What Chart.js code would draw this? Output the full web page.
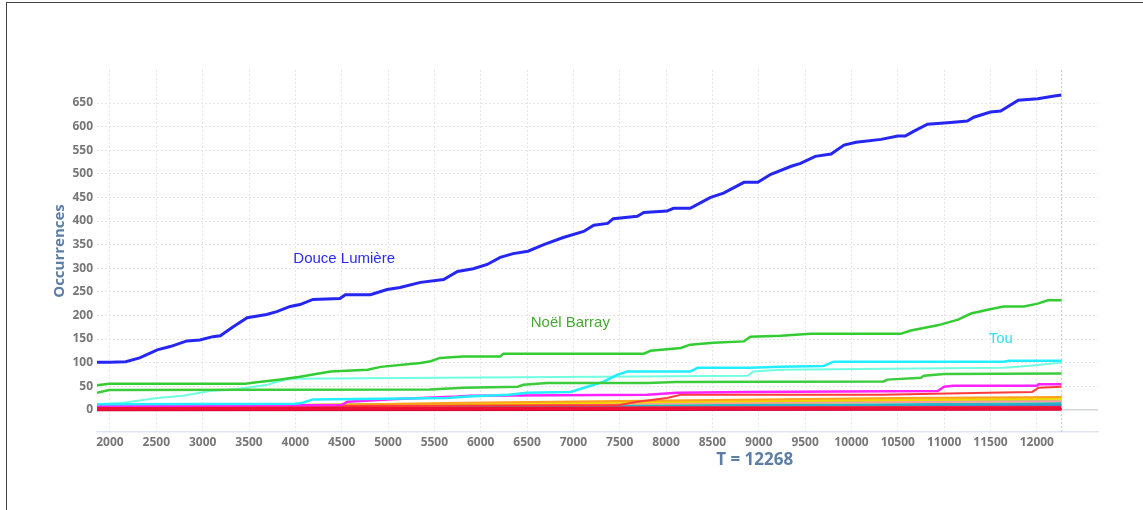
<!DOCTYPE html>
<html>
<head>
<meta charset="utf-8">
<script src="https://cdn.jsdelivr.net/npm/chart.js@4.4.1/dist/chart.umd.min.js"></script>
<style>
html, body { margin: 0; padding: 0; background: #fff; }
#wrap { position: relative; width: 1143px; height: 510px; }
#frame { position: absolute; left: 6px; top: 2px; right: 0; bottom: 0;
  border-left: 1.5px solid #444; border-top: 1.5px solid #444; pointer-events: none; }
</style>
</head>
<body>
<div id="wrap">
  <canvas id="chart" width="1143" height="510" style="width:1143px;height:510px"></canvas>
  <div id="frame"></div>
</div>
<script>
const T_NOW = 12268;

// Douce Lumière
const blueT = [1860, 2000, 2170, 2320, 2510, 2650, 2830, 2970, 3110, 3190, 3330, 3480, 3690, 3800, 3944,
  4050, 4190, 4480, 4540, 4810, 4990, 5130, 5350, 5600, 5750, 5920, 6070, 6210, 6350, 6510, 6680, 6890,
  7110, 7220, 7370, 7430, 7690, 7760, 8010, 8080, 8260, 8480, 8620, 8840, 8990, 9130, 9350, 9450, 9610,
  9780, 9920, 10050, 10320, 10500, 10580, 10670, 10820, 11070, 11250, 11320, 11500, 11610, 11800, 12010,
  12190, 12268];
const blueV = [101, 101, 102, 110, 127, 134, 146, 148, 155, 157, 176, 195, 202, 208, 219,
  223, 234, 236, 244, 244, 255, 259, 270, 276, 293, 299, 308, 323, 331, 336, 350, 365,
  378, 391, 395, 405, 410, 418, 421, 427, 427, 450, 459, 482, 482, 499, 516, 522, 537,
  542, 561, 567, 573, 580, 580, 590, 605, 609, 612, 620, 631, 633, 656, 659,
  665, 667];

// Noël Barray
const greenT = [1860, 1990, 3460, 3560, 3840, 4050, 4380, 4780, 4920, 5350, 5460, 5560, 5810, 6210, 6245,
  7760, 7830, 8160, 8260, 8510, 8840, 8910, 9235, 9560, 10530, 10640, 10930, 11150, 11290, 11470, 11640,
  11860, 12010, 12120, 12268];
const greenV = [52, 55, 55, 58, 64, 70, 81, 85, 91, 99, 103, 110, 113, 113, 119,
  119, 125, 131, 138, 142, 145, 155, 157, 161, 161, 168, 179, 191, 204, 212, 219,
  219, 225, 232, 232];

const green2T = [1860, 1990, 5450, 5810, 6400, 6460, 6720, 7800, 8100, 10345, 10390, 10750, 10780, 11000, 12268];
const green2V = [36, 42, 43, 47, 49, 53, 57, 57, 59, 60, 64, 68, 72, 76, 77];

// Tou
const cyanT = [1860, 4000, 4080, 4190, 5640, 5860, 6300, 6500, 6970, 7150, 7320, 7470, 7580, 8260, 8340,
  8910, 9235, 9700, 9810, 11640, 11700, 12268];
const cyanV = [12, 13, 15, 22, 25, 28, 32, 36, 38, 49, 59, 74, 81, 81, 89,
  89, 91, 93, 102, 102, 104, 104];

const aquaT = [1860, 2140, 2510, 2790, 2970, 3080, 3250, 3480, 3700, 3800, 3944, 5560, 7260, 8880, 8940,
  9235, 10390, 11640, 11800, 12010, 12268];
const aquaV = [12, 15, 25, 30, 36, 40, 42, 47, 53, 59, 66, 68, 70, 72, 81,
  85, 87, 89, 91, 95, 100];

const magentaT = [1860, 4500, 4560, 5100, 5750, 5890, 7800, 8120, 8880, 10930, 11000, 11100, 12000, 12020, 12268];
const magentaV = [8, 10, 17, 23, 28, 30, 32, 36, 38, 40, 49, 51, 51, 54, 54];

const redT = [1860, 7500, 7690, 8010, 8160, 10320, 11470, 11950, 12020, 12268];
const redV = [6, 10, 17, 25, 32, 32, 36, 38, 47, 49];

const orangeT = [1860, 2700, 4800, 5800, 8000, 10500, 12268];
const orangeV = [5, 8, 12, 15, 20, 25, 27];
const yellowT = [1860, 3500, 5500, 8000, 11000, 12268];
const yellowV = [3, 6, 10, 17, 22, 24];
const salmonT = [1860, 5000, 8000, 11000, 12268];
const salmonV = [3, 8, 14, 17, 18];
const limeT = [1860, 4800, 7000, 10000, 12268];
const limeV = [4, 12, 13, 16, 19];
const tealT = [1860, 4000, 8000, 11000, 12268];
const tealV = [2, 6, 9, 12, 14];
const steelT = [1860, 5000, 9000, 12268];
const steelV = [1, 4, 8, 10];
const purpleT = [1860, 6000, 12268];
const purpleV = [1, 3, 6];
const pinkT = [1860, 8000, 12268];
const pinkV = [3, 5, 6];
const crimsonT = [1860, 12268];
const crimsonV = [0, 1];
const redBandT = [1860, 5000, 12268];
const redBandV = [2, 3, 4];

const xTicks = [2000, 2500, 3000, 3500, 4000, 4500, 5000, 5500, 6000, 6500, 7000,
  7500, 8000, 8500, 9000, 9500, 10000, 10500, 11000, 11500, 12000];
const yTicks = [0, 50, 100, 150, 200, 250, 300, 350, 400, 450, 500, 550, 600, 650];

const annNames = ['Douce Lumière', 'Noël Barray', 'Tou'];
const annT = [4527, 6967, 11611];
const annV = [319, 185, 151];
const annColors = ['#2b2bf0', '#47a832', '#2fe4f2'];

const pts = (ts, vs) => ts.map((t, i) => ({ x: t, y: vs[i] }));

const series = [
  [blueT, blueV, '#2626f2', 3],
  [redBandT, redBandV, '#ee1133', 3.5],
  [crimsonT, crimsonV, '#d4003a', 3],
  [greenT, greenV, '#33cc33', 2.5],
  [green2T, green2V, '#3ccc3c', 2.5],
  [cyanT, cyanV, '#22eeff', 2.5],
  [aquaT, aquaV, '#70ffe0', 2],
  [magentaT, magentaV, '#ff22ff', 2.5],
  [redT, redV, '#ff3b3b', 2],
  [pinkT, pinkV, '#ff4477', 2],
  [orangeT, orangeV, '#ffa020', 2],
  [yellowT, yellowV, '#f0d800', 2.5],
  [salmonT, salmonV, '#ff9c9c', 2],
  [limeT, limeV, '#9ad858', 2.5],
  [tealT, tealV, '#22b8c8', 2.5],
  [steelT, steelV, '#4a88c8', 2.5],
  [purpleT, purpleV, '#9966cc', 2]
];

const labelPlugin = {
  id: 'labels',
  afterDatasetsDraw(chart) {
    const { ctx, scales: { x, y }, chartArea } = chart;
    ctx.save();
    // current time marker
    const px = x.getPixelForValue(T_NOW);
    ctx.strokeStyle = '#c4c9d0';
    ctx.lineWidth = 1;
    ctx.setLineDash([2, 2]);
    ctx.beginPath();
    ctx.moveTo(px, chartArea.top);
    ctx.lineTo(px, chartArea.bottom);
    ctx.stroke();
    ctx.setLineDash([]);
    // series labels
    ctx.font = '15px "Liberation Sans", Arial, sans-serif';
    ctx.textAlign = 'center';
    ctx.textBaseline = 'middle';
    annNames.forEach((name, i) => {
      ctx.fillStyle = annColors[i];
      ctx.fillText(name, x.getPixelForValue(annT[i]), y.getPixelForValue(annV[i]));
    });
    // x title
    ctx.font = 'bold 17px "Open Sans", sans-serif';
    ctx.fillStyle = '#5d7fa6';
    ctx.fillText('T = ' + T_NOW, chartArea.left + 0.657 * (chartArea.right - chartArea.left), chartArea.bottom + 28);
    ctx.restore();
  }
};

const tickFont = { family: '"Open Sans", sans-serif', size: 12, weight: 'bold' };

new Chart(document.getElementById('chart').getContext('2d'), {
  type: 'line',
  data: {
    datasets: series.map(([ts, vs, color, w]) => ({
      data: pts(ts, vs),
      borderColor: color,
      backgroundColor: color,
      borderWidth: w,
      pointRadius: 0,
      tension: 0,
      fill: false
    }))
  },
  options: {
    responsive: false,
    animation: false,
    layout: { padding: { top: 70, right: 45, bottom: 48, left: 51 } },
    plugins: { legend: { display: false }, tooltip: { enabled: false } },
    scales: {
      x: {
        type: 'linear',
        min: 1860,
        max: 12660,
        afterBuildTicks: s => { s.ticks = xTicks.map(v => ({ value: v })); },
        afterFit: s => { s.height = 30; },
        ticks: { color: '#777', font: tickFont, padding: 3, maxRotation: 0, autoSkip: false,
          callback: v => String(v) },
        grid: { color: '#e2e7ee', lineWidth: 1, drawTicks: false },
        border: { display: true, color: '#dfe5ee', width: 1.5, dash: [2, 2] }
      },
      y: {
        min: -47,
        max: 720,
        afterBuildTicks: s => { s.ticks = yTicks.map(v => ({ value: v })); },
        afterFit: s => { s.width = 46; },
        ticks: { color: '#777', font: tickFont, padding: 4, callback: v => String(v) },
        grid: {
          drawTicks: false,
          color: c => (c.tick && c.tick.value === 0) ? '#d2d6db' : '#e6e6e6',
          lineWidth: c => (c.tick && c.tick.value === 0) ? 1.5 : 1
        },
        border: { display: false, dash: c => (c.tick && c.tick.value === 0) ? [] : [2, 2] },
        title: { display: true, text: 'Occurrences', color: '#5d7fa6',
          font: { family: '"Open Sans", sans-serif', size: 15, weight: 'bold' }, padding: 0 }
      }
    }
  },
  plugins: [labelPlugin]
});
</script>
</body>
</html>
